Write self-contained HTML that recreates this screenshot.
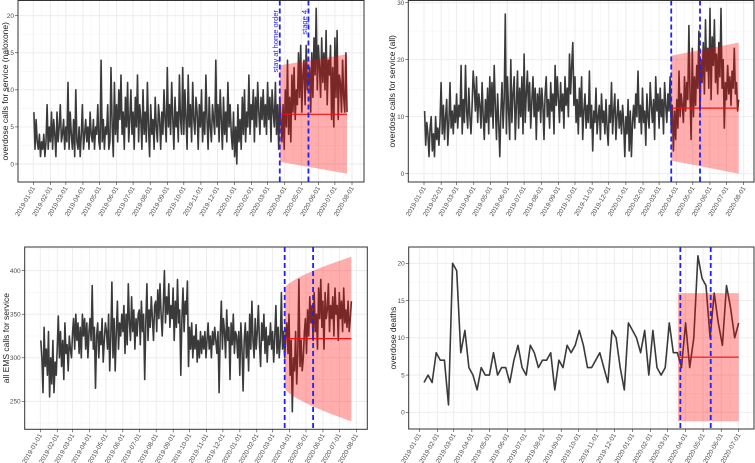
<!DOCTYPE html>
<html><head><meta charset="utf-8">
<style>
html,body{margin:0;padding:0;background:#fff;}
svg{display:block;font-family:"Liberation Sans",sans-serif;}
.tk{font-size:6.5px;fill:#4d4d4d;}
.yt{font-size:8.5px;fill:#1a1a1a;}
</style></head>
<body>
<svg id="chart" width="755" height="463" viewBox="0 0 755 463"></svg>
<script>
// ---------- data ----------
const naloxoneCalls = [7,2,6,3,2,4,1,3,2,4,1,3,8,2,5, 3,7,2,6,4,1,7,3,5,8,3,4,6,2,5, 3,11,2,7,4,2,6,1,10,3,2,5,1,4,8, 2,4,6,3,5,2,7,4,3,6,2,5,4,8,3, 2,14,3,6,2,5,4,8,2,3,13,5,1,11,4, 8,3,10,6,12,4,7,2,9,5,11,3,6,10,4, 7,2,9,5,12,3,8,6,2,10,4,7,3,11,5, 1,8,4,6,2,9,5,3,8,6,2,7,4,10,6, 3,13,5,8,4,11,6,2,9,5,7,3,12,6,4, 13,4,10,6,2,12,5,8,3,11,6,4,9,7,2, 8,5,10,3,7,4,12,6,2,9,5,3,8,6,4, 14,5,8,3,10,6,2,9,4,7,3,11,5,8,4, 2,7,1,5,0,8,3,6,2,9,4,10,3,7,5, 12,4,8,6,10,3,9,5,11,7,4,9,6,10,5, 8,4,11,6,9,3,10,7,5,11,4,8,2,9,6, 3,8,2,10,5,14,4,9,3,12,7,13,6,10,8, 15,9,16,7,12,14,8,16,10,11,13,7,15,9,17, 12,21,10,16,13,9,17,11,15,10,18,8,14,12,16, 6,13,5,17,9,18,6,12,11,7,14,9,7,15,7];
const allCalls = [11,5,9,7,3,8,10,4,7,3,10,6,8,5,9, 16,7,12,6,10,13,5,9,16,8,11,7,12,9,14, 8,12,10,19,7,13,9,19,11,8,15,10,7,12,18, 15,11,17,9,14,12,8,16,10,6,13,9,15,7,17, 10,16,8,19,12,6,14,9,3,11,16,8,13,28,7, 17,11,6,20,9,14,17,6,12,18,8,15,10,17,7, 21,9,14,18,11,16,8,13,17,10,15,6,14,11,15, 9,15,12,6,14,17,10,13,8,16,11,14,7,19,12, 17,13,9,16,11,14,8,17,12,15,10,21,14,19,23, 12,17,9,13,7,15,10,17,6,11,14,8,12,9,18, 8,12,4,11,9,15,7,10,12,6,14,9,11,7,13, 8,5,12,9,16,7,11,14,6,10,13,8,11,7,12, 9,3,10,7,13,4,11,3,9,12,8,14,10,18,9, 12,7,15,9,11,5,14,10,8,16,12,9,13,6,17, 11,14,8,15,10,13,7,16,12,9,14,11,17,8,12, 4,11,6,13,8,18,10,14,12,9,17,11,16,13,26, 14,6,22,10,17,12,19,15,25,11,20,16,23,14,27, 18,22,15,29,13,24,19,27,16,21,14,23,17,29,15, 20,8,16,13,19,14,17,12,18,15,22,14,16,11,13];
const emsCalls = [320,300,260,335,290,310,280,330,255,300,270,320,260,295,280, 310,348,300,330,290,320,275,340,305,315,285,325,310,300,330, 345,310,350,320,340,305,335,300,350,325,345,310,340,300,330, 345,320,383,310,335,265,325,340,300,330,315,345,295,320,340, 330,310,350,285,325,387,300,345,285,330,365,310,340,325,350, 330,360,305,350,315,385,340,320,370,330,355,310,345,325,350, 355,315,365,330,350,275,340,385,320,355,335,370,345,320,360, 365,330,378,345,385,350,325,360,400,340,370,350,385,335,360, 345,380,320,365,335,390,340,355,280,345,380,330,365,350,388, 290,335,310,340,300,325,310,338,295,320,300,330,305,325,310, 330,300,320,340,310,325,300,330,315,335,320,305,330,260,325, 365,310,345,330,300,355,320,335,275,340,315,350,305,330,325, 300,330,280,340,310,262,320,340,300,330,285,350,310,365,320, 300,345,310,330,360,315,290,340,320,350,305,335,295,325,315, 340,310,330,295,325,360,305,335,300,320,375,310,330,300,325, 340,305,350,280,320,238,300,285,330,270,305,390,290,320,285, 300,330,345,305,355,325,370,340,360,320,375,330,350,310,380, 345,390,335,365,310,375,345,355,385,330,360,345,370,325,380, 350,360,320,375,345,365,330,380,340,355,335,365,330,345,365];
const overdoseDeaths = [4,5,4,8,7,7,1,20,19,8,11,6,5,3,6,5,5,8,5,6,6,4,7,9,6,5,9,8,6,7,7,8,3,7,6,9,8,9,11,9,6,6,7,8,6,4,11,10,6,3,12,11,10,8,11,5,11,6,5,6,12,8,8,6,12,6,10,21,18,17,10,16,12,9,17,14,10,12];
// forecast bands: [mean, upperStart, upperEnd, lowerStart, lowerEnd]
const bandNaloxone = [6.7, 13.3, 14.8, 0.3, -1.3];
const bandAll = [11.5, 20.7, 23, 2.3, 0];
const bandEms = [322, 380, 416, 265, 227];
const bandDeaths = [7.4, 16, 16, -1.2, -1.2];
// event days (days since 2019-01-01)
const eventDays = [447, 499];
const yTicksNaloxone = [0,5,10,15,20];
const yTicksAll = [0,10,20,30];
const yTicksEms = [250,300,350,400];
const yTicksDeaths = [0,5,10,15,20];

// ---------- rendering ----------
const NS = "http://www.w3.org/2000/svg";
const svg = document.getElementById("chart");
function el(tag, attrs, parent){ const e=document.createElementNS(NS,tag); for(const k in attrs) e.setAttribute(k,attrs[k]); (parent||svg).appendChild(e); return e; }
const D0 = Date.UTC(2019,0,1);
function dayOf(y,m){ return (Date.UTC(y,m,1)-D0)/86400000; }

function panel(cfg){
  const g = el("g",{});
  
  
  const X = d => cfg.x0 + d*cfg.ppd;
  const Y = v => cfg.yRef0 - (v-cfg.v0)*cfg.ypu;
  el("rect",{x:cfg.L,y:cfg.T,width:cfg.R-cfg.L,height:cfg.B-cfg.T,fill:"#fff"},g);
  const months=[];
  for(let i=0;i<cfg.nMonths;i++){ months.push({d:dayOf(2019+Math.floor(i/12),i%12), y:2019+Math.floor(i/12), m:i%12}); }
  const step = cfg.yTicks[1]-cfg.yTicks[0];
  for(let v=cfg.yTicks[0]-step/2; v<=cfg.yTicks[cfg.yTicks.length-1]+step; v+=step){
    const y=Y(v); if(y>cfg.T && y<cfg.B) el("line",{x1:cfg.L,x2:cfg.R,y1:y,y2:y,stroke:"#f4f4f4","stroke-width":0.6},g);
  }
  for(let i=0;i<months.length;i++){
    const d = i<months.length-1 ? (months[i].d+months[i+1].d)/2 : months[i].d+15;
    const x=X(d); if(x<cfg.R) el("line",{x1:x,x2:x,y1:cfg.T,y2:cfg.B,stroke:"#f4f4f4","stroke-width":0.6},g);
  }
  cfg.yTicks.forEach(v=>{
    const y=Y(v);
    el("line",{x1:cfg.L,x2:cfg.R,y1:y,y2:y,stroke:"#ebebeb","stroke-width":0.9},g);
    el("line",{x1:cfg.L-3,x2:cfg.L,y1:y,y2:y,stroke:"#333","stroke-width":0.6},g);
    const t=el("text",{x:cfg.L-4,y:y+2.3,"text-anchor":"end",class:"tk"},g); t.textContent=v;
  });
  months.forEach(mo=>{
    const x=X(mo.d);
    el("line",{x1:x,x2:x,y1:cfg.T,y2:cfg.B,stroke:"#ebebeb","stroke-width":0.9},g);
    el("line",{x1:x,x2:x,y1:cfg.B,y2:cfg.B+3,stroke:"#333","stroke-width":0.6},g);
    const lbl = mo.y+"-"+String(mo.m+1).padStart(2,"0")+"-01";
    const t=el("text",{x:x+2,y:cfg.B+6,"text-anchor":"end",class:"tk",transform:`rotate(-60 ${x+2} ${cfg.B+6})`},g); t.textContent=lbl;
  });
  const pts = cfg.data.map((v,i)=>X(cfg.dStart+i*cfg.dStep).toFixed(1)+","+Y(v).toFixed(1)).join(" ");
  const line=el("polyline",{points:pts,fill:"none",stroke:"#3a3a3a","stroke-width":1.6,"stroke-linejoin":"round"},g);
  
  
  const b=cfg.band, n=40, up=[], lo=[];
  for(let k=0;k<=n;k++){
    const f=k/n, f2=cfg.curve?Math.pow(f,0.7):f;
    const d=cfg.bStart+(cfg.bEnd-cfg.bStart)*f;
    up.push(X(d).toFixed(1)+","+Y(b[1]+(b[2]-b[1])*f2).toFixed(1));
    lo.unshift(X(d).toFixed(1)+","+Y(b[3]+(b[4]-b[3])*f2).toFixed(1));
  }
  const band=el("polygon",{points:up.concat(lo).join(" "),fill:"#ff0000","fill-opacity":0.32},g);
  
  
  const ml=el("line",{x1:X(cfg.bStart),x2:X(cfg.bEnd),y1:Y(b[0]),y2:Y(b[0]),stroke:"#ee1111","stroke-width":1.2},g);
  
  
  eventDays.forEach((d,i)=>{
    const vl=el("line",{x1:X(d),x2:X(d),y1:cfg.T,y2:cfg.B,stroke:"#1f1fff","stroke-width":1.8,"stroke-dasharray":"5,3"},g);
    
    
  });
  el("rect",{x:cfg.L,y:cfg.T,width:cfg.R-cfg.L,height:cfg.B-cfg.T,fill:"none",stroke:"#333","stroke-width":1},g);
  const cy=(cfg.T+cfg.B)/2;
  const yt=el("text",{x:cfg.tx,y:cy,"text-anchor":"middle",class:"yt",transform:`rotate(-90 ${cfg.tx} ${cy})`},g);
  yt.textContent=cfg.title;
  
  
  return {X,Y,g};
}

panel({name:"naloxone-panel",L:18,R:364,T:0.5,B:182,x0:33.3,ppd:0.5514,yRef0:164,v0:0,ypu:7.415,
  yTicks:yTicksNaloxone,nMonths:20,data:naloxoneCalls,dStart:1,dStep:2,band:bandNaloxone,bStart:447,bEnd:569,tx:8,
  title:"overdose calls for service (naloxone)"});
panel({name:"all-overdose-panel",L:408.3,R:754,T:0.5,B:182,x0:424,ppd:0.5531,yRef0:173.7,v0:0,ypu:5.7,
  yTicks:yTicksAll,nMonths:20,data:allCalls,dStart:1,dStep:2,band:bandAll,bStart:447,bEnd:569,tx:395,
  title:"overdose calls for service (all)"});
panel({name:"ems-panel",L:24.7,R:367.3,T:247,B:429.3,x0:40.3,ppd:0.5467,yRef0:401.3,v0:250,ypu:0.8707,
  yTicks:yTicksEms,nMonths:20,data:emsCalls,dStart:1,dStep:2,band:bandEms,bStart:447,bEnd:569,curve:true,tx:9,
  title:"all EMS calls for service"});
panel({name:"deaths-panel",L:408.7,R:754,T:247,B:429,x0:419.3,ppd:0.584,yRef0:412.3,v0:0,ypu:7.45,
  yTicks:yTicksDeaths,nMonths:19,data:overdoseDeaths,dStart:8,dStep:7,band:bandDeaths,bStart:443,bEnd:547,tx:396,
  title:"overdose deaths"});

const a1=el("text",{x:278,y:10,"text-anchor":"end",fill:"#1f1fff","font-size":"7.5px",transform:"rotate(-90 278 10)"});
a1.textContent="stay at home order";


const a2=el("text",{x:307,y:10,"text-anchor":"end",fill:"#1f1fff","font-size":"7.5px",transform:"rotate(-90 307 10)"});
a2.textContent="stage 4";


</script>
</body></html>
